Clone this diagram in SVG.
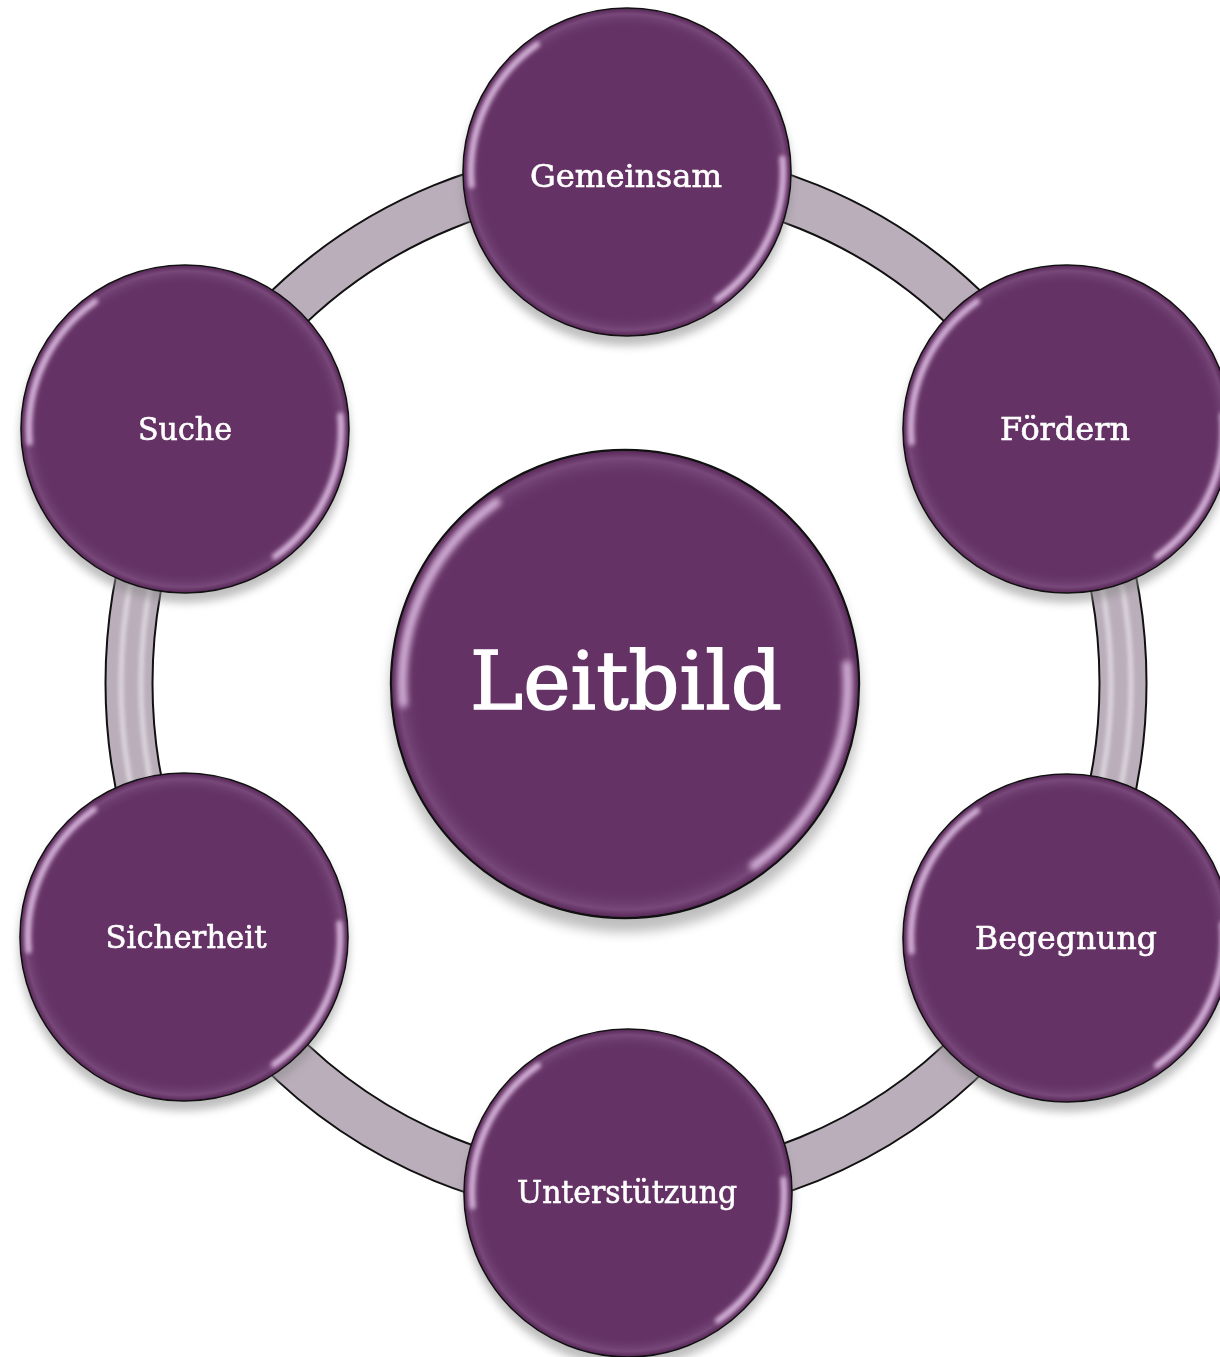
<svg xmlns="http://www.w3.org/2000/svg" xmlns:xlink="http://www.w3.org/1999/xlink" width="1220" height="1357" viewBox="0 0 1220 1357">
  <defs>
    <style>
      .label { font-family: "DejaVu Serif", "Liberation Serif", serif; fill: #ffffff; stroke: #ffffff; text-anchor: middle; }
      .small { font-size: 32px; stroke-width: 0.6; }
      .big { font-size: 81px; stroke-width: 1.4; }
      .orbfill { fill: #643264; stroke: #111111; stroke-width: 1.6; }
      .hl { fill: none; stroke: #e8c8ec; stroke-width: 6; stroke-linecap: round; opacity: 0.85; }
    </style>
    <filter id="shadow" x="-20%" y="-20%" width="140%" height="150%">
      <feGaussianBlur stdDeviation="4"/>
    </filter>
    <filter id="soft" x="-20%" y="-20%" width="140%" height="140%">
      <feGaussianBlur stdDeviation="2.2"/>
    </filter>
    <radialGradient id="edge" cx="0.5" cy="0.5" r="0.5">
      <stop offset="0.88" stop-color="#643264" stop-opacity="0"/>
      <stop offset="0.97" stop-color="#7a4a7c" stop-opacity="0.9"/>
      <stop offset="1" stop-color="#5a2a5a" stop-opacity="1"/>
    </radialGradient>
    <clipPath id="sideclip">
      <rect x="0" y="585" width="1220" height="200"/>
    </clipPath>
    <g id="orb">
      <circle cx="0" cy="9" r="165" fill="#8a8a8a" opacity="0.55" filter="url(#shadow)"/>
      <circle cx="0" cy="0" r="164" class="orbfill"/>
      <circle cx="0" cy="0" r="163" fill="url(#edge)"/>
      <g filter="url(#soft)">
        <path class="hl" d="M -155.4 13.6 A 156 156 0 0 1 -90 -127.4"/>
        <path class="hl" d="M 155.4 -13.6 A 156 156 0 0 1 90 127.4"/>
      </g>
    </g>
  </defs>

  <rect width="1220" height="1357" fill="#ffffff"/>

  <g id="connectors">
    <ellipse cx="626" cy="683" rx="497" ry="512" fill="none" stroke="#111111" stroke-width="49"/>
    <ellipse cx="626" cy="683" rx="497" ry="512" fill="none" stroke="#bbaebb" stroke-width="45"/>
    <g clip-path="url(#sideclip)" filter="url(#soft)" opacity="0.8">
      <ellipse cx="626" cy="683" rx="505" ry="520" fill="none" stroke="#ffffff" stroke-width="3"/>
      <ellipse cx="626" cy="683" rx="485" ry="500" fill="none" stroke="#ffffff" stroke-width="3"/>
    </g>
  </g>

  <g id="node-gemeinsam">
    <use xlink:href="#orb" transform="translate(627,172)"/>
    <text class="label small" x="626" y="187" textLength="192" lengthAdjust="spacingAndGlyphs">Gemeinsam</text>
  </g>
  <g id="node-foerdern">
    <use xlink:href="#orb" transform="translate(1067,429)"/>
    <text class="label small" x="1065" y="440" textLength="130" lengthAdjust="spacingAndGlyphs">Fördern</text>
  </g>
  <g id="node-begegnung">
    <use xlink:href="#orb" transform="translate(1067,938)"/>
    <text class="label small" x="1066" y="949" textLength="182" lengthAdjust="spacingAndGlyphs">Begegnung</text>
  </g>
  <g id="node-unterstuetzung">
    <use xlink:href="#orb" transform="translate(628,1193)"/>
    <text class="label small" x="627" y="1203" textLength="220" lengthAdjust="spacingAndGlyphs">Unterstützung</text>
  </g>
  <g id="node-sicherheit">
    <use xlink:href="#orb" transform="translate(184,937)"/>
    <text class="label small" x="186" y="948" textLength="161" lengthAdjust="spacingAndGlyphs">Sicherheit</text>
  </g>
  <g id="node-suche">
    <use xlink:href="#orb" transform="translate(185,429)"/>
    <text class="label small" x="185" y="440" textLength="94" lengthAdjust="spacingAndGlyphs">Suche</text>
  </g>
  <g id="node-leitbild">
    <use xlink:href="#orb" transform="translate(625,684) scale(1.427)"/>
    <text class="label big" x="626" y="709" textLength="312" lengthAdjust="spacingAndGlyphs">Leitbild</text>
  </g>
</svg>
